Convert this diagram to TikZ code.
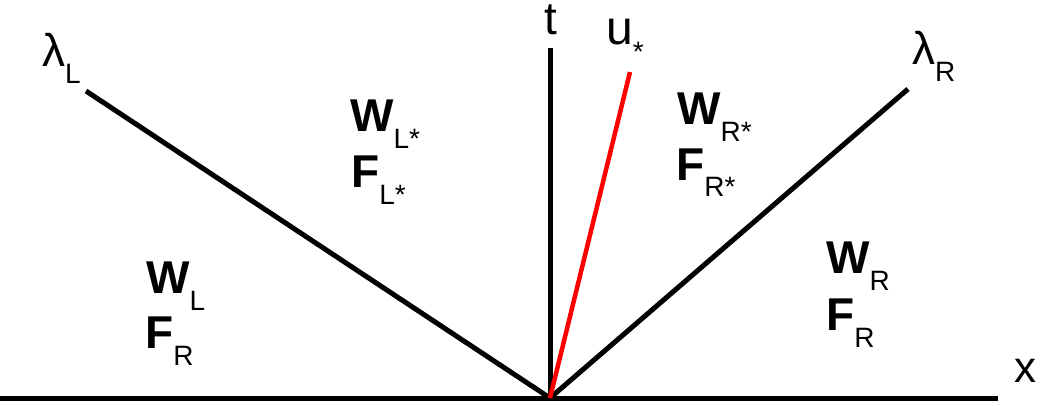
\documentclass[tikz,border=0pt]{standalone}
\usepackage{fontspec}
\setmainfont{Liberation Sans}
\newcommand\subtx[1]{\raisebox{-17pt}{\fontsize{28}{28}\selectfont #1}}
\tikzset{
  lbl/.style={anchor=base west, inner sep=0pt, font=\fontsize{46}{46}\selectfont},
  axl/.style={anchor=base west, inner sep=0pt, font=\fontsize{48}{48}\selectfont},
  var/.style={anchor=base west, inner sep=0pt, font=\fontsize{46}{46}\selectfont},
  wave/.style={line width=5pt, black},
  contact/.style={line width=4.5pt, red}
}
\begin{document}
\begin{tikzpicture}[x=1pt,y=1pt]
\useasboundingbox (0,0) rectangle (1044,405);
\coordinate (O) at (550,7);
\coordinate (xs) at (0,7);
\coordinate (xe) at (998,7);
\coordinate (te) at (550,357);
\coordinate (le) at (86,314);
\coordinate (re) at (908,316);
\coordinate (ue) at (630,333);
\draw[wave] (xs) -- (xe);
\draw[wave] (O) -- (te);
\draw[wave] (O) -- (le);
\draw[wave] (O) -- (re);
\draw[contact] (O) -- (ue);
\node[lbl] (lamL) at (42,338) {λ\subtx{L}};
\node[lbl] (lamR) at (912,340) {λ\subtx{R}};
\node[lbl] (tl) at (544,370) {t};
\node[axl] (ul) at (606,360) {u\subtx{*}};
\node[anchor=base west, inner sep=0pt, font=\fontsize{44}{44}\selectfont] (xl) at (1014,23) {x};
\node[var] (WLs) at (350,273) {\textbf{W}\subtx{L*}};
\node[var] (FLs) at (351,218) {\textbf{F}\subtx{L*}};
\node[var] (WL) at (146,112) {\textbf{W}\subtx{L}};
\node[var] (FR) at (145,57) {\textbf{F}\subtx{R}};
\node[var] (WRs) at (677,280) {\textbf{W}\subtx{R*}};
\node[var] (FRs) at (676,225) {\textbf{F}\subtx{R*}};
\node[var] (WR) at (826,132) {\textbf{W}\subtx{R}};
\node[var] (FRR) at (826,75) {\textbf{F}\subtx{R}};
\end{tikzpicture}
\end{document}
